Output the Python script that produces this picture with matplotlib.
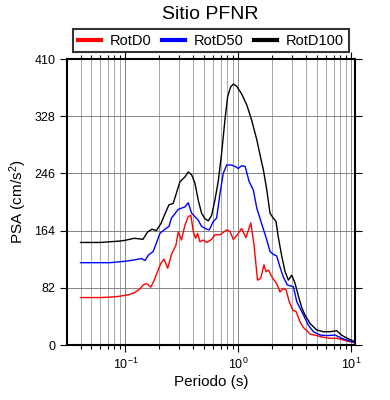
import matplotlib
matplotlib.use('Agg')
import matplotlib.pyplot as plt
from matplotlib.ticker import LogLocator, NullFormatter

plt.rcParams['font.family'] = ['Liberation Sans', 'DejaVu Sans']
plt.rcParams['mathtext.fontset'] = 'custom'
plt.rcParams['mathtext.rm'] = 'Liberation Sans'
plt.rcParams['mathtext.it'] = 'Liberation Sans:italic'

# datos: periodo (s) y PSA (cm/s2)
t_d100 = [0.04, 0.06, 0.089, 0.099, 0.12, 0.143, 0.157, 0.172, 0.188, 0.206, 0.224,
          0.243, 0.265, 0.304, 0.337, 0.36, 0.386, 0.413, 0.441, 0.473, 0.506, 0.542,
          0.581, 0.621, 0.665, 0.712, 0.762, 0.805, 0.856, 0.903, 0.968, 1.07, 1.19,
          1.31, 1.46, 1.61, 1.67, 1.79, 1.91, 2.04, 2.16, 2.26, 2.43, 2.6, 2.78, 2.98,
          3.19, 3.41, 3.66, 3.9, 4.32, 4.96, 5.7, 6.5, 7.45, 8.25, 9.5, 10.8]
rotd100 = [147, 147, 149, 150, 153, 151.5, 162, 166, 164, 174, 188,
           201, 203, 234, 241, 248, 244, 232, 208, 189, 181, 178,
           186, 208, 235, 275, 323, 356, 370, 374, 371, 360, 344,
           323, 294, 262, 251, 222, 189, 182, 177, 155, 127, 105, 93, 100,
           88, 70, 53, 43, 31, 21.5, 19, 19, 20.5, 14, 8.6, 4.7]

t_d50 = [0.04, 0.06, 0.073, 0.099, 0.12, 0.139, 0.149, 0.16, 0.176, 0.188, 0.202,
         0.224, 0.243, 0.256, 0.294, 0.337, 0.36, 0.386, 0.413, 0.441, 0.473, 0.525,
         0.553, 0.6, 0.643, 0.688, 0.736, 0.789, 0.874, 0.935, 1.0, 1.07, 1.15,
         1.25, 1.36, 1.46, 1.61, 1.79, 1.91, 2.04, 2.19, 2.34, 2.5, 2.72, 3.0,
         3.08, 3.3, 3.53, 3.78, 4.17, 4.63, 5.31, 6.1, 7.2, 8.25, 9.5, 10.8]
rotd50 = [118, 118, 118, 120, 122, 124, 121, 129, 134, 146, 160,
          166, 170, 182, 194.5, 198, 204, 189, 184, 179, 170, 166,
          165, 177, 182, 217, 246, 258, 258, 256, 253, 257, 256,
          234, 222, 196, 174, 150.5, 134, 130, 127.6, 112, 98, 86, 84,
          83.6, 62, 52.6, 43, 28.7, 19, 14.3, 13.4, 14.3, 9.6, 6.2, 3.3]

t_d0 = [0.04, 0.06, 0.08, 0.099, 0.11, 0.12, 0.134, 0.143, 0.154, 0.168, 0.18,
        0.195, 0.206, 0.22, 0.237, 0.256, 0.28, 0.294, 0.314, 0.337, 0.36, 0.38,
        0.4, 0.419, 0.436, 0.457, 0.49, 0.525, 0.581, 0.621, 0.688, 0.789, 0.844,
        0.903, 0.95, 1.0, 1.07, 1.17, 1.29, 1.38, 1.48, 1.58, 1.69, 1.76, 1.85,
        2.02, 2.19, 2.34, 2.5, 2.65, 2.83, 3.04, 3.25, 3.53, 3.78, 4.05, 4.32,
        4.96, 5.7, 6.5, 7.45, 8.55, 9.8, 10.8]
rotd0 = [68, 68, 69, 71, 72.7, 75, 80, 86, 88, 83, 93,
         107.5, 117, 123, 110, 130, 143, 162, 150.5, 172, 184, 186,
         162, 153, 160, 148, 150.5, 147, 151.5, 158, 158, 165, 163,
         151.5, 155, 160, 167, 154, 175, 143, 93, 95.6, 115, 105, 107.5,
         95.6, 88, 76, 81, 79, 62, 50, 48, 33, 25, 20.5, 15.8,
         13.4, 11, 9.6, 9.6, 7.2, 4.7, 3.3]

yticks = [0, 82, 164, 246, 328, 410]

fig = plt.figure(figsize=(3.9, 4.0), dpi=100)
ax = fig.add_axes([0.172, 0.1375, 0.738, 0.715])

ax.plot(t_d0, rotd0, color='red', lw=1.0, label='RotD0', zorder=3)
ax.plot(t_d50, rotd50, color='blue', lw=1.0, label='RotD50', zorder=3)
ax.plot(t_d100, rotd100, color='black', lw=1.0, label='RotD100', zorder=3)

ax.set_xscale('log')
ax.set_xlim(0.0304, 10.8)
ax.set_ylim(0, 410)
ax.set_yticks(yticks)
ax.xaxis.set_major_locator(LogLocator(base=10))
ax.xaxis.set_minor_locator(LogLocator(base=10, subs=range(2, 10)))
ax.xaxis.set_minor_formatter(NullFormatter())

ax.grid(True, which='major', color='0.45', lw=0.6)
ax.grid(True, which='minor', axis='x', color='0.6', lw=0.6)

for s in ax.spines.values():
    s.set_linewidth(1.5)
ax.tick_params(which='both', direction='out', top=True, right=True,
               labelsize=9, width=0.8)
ax.tick_params(which='major', length=5)
ax.tick_params(which='minor', length=3)

ax.set_xlabel('Periodo (s)', fontsize=11, labelpad=2)
ax.set_ylabel('PSA (cm/s$^2$)', fontsize=11, labelpad=4)

fig.text(0.538, 0.9525, 'Sitio PFNR', ha='center', va='baseline', fontsize=14)

leg = ax.legend(loc='lower center', bbox_to_anchor=(0.5, 1.0245),
                ncol=3, fontsize=10.5, frameon=True, fancybox=False,
                borderaxespad=0, handlelength=1.6, handletextpad=0.6,
                borderpad=0.3, columnspacing=0.7)
leg.get_frame().set_edgecolor('black')
leg.get_frame().set_linewidth(1.5)
for h in leg.get_lines():
    h.set_linewidth(3)

fig.savefig('out.png', dpi=100)
